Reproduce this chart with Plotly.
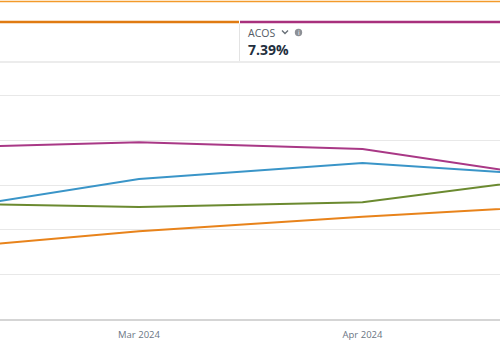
import plotly.graph_objects as go

# ---- data ----
months = ["2024-02-01", "2024-03-01", "2024-04-01", "2024-05-01"]
series_magenta = [3.84, 3.96, 3.81, 3.09]
series_blue = [2.40, 3.14, 3.50, 3.18]
series_green = [2.60, 2.51, 2.62, 3.24]
series_orange = [1.55, 1.97, 2.29, 2.57]
tick_dates = ["2024-03-01", "2024-04-01"]
tick_labels = ["Mar 2024", "Apr 2024"]
metric_name = "ACOS"
metric_value = "7.39%"

W, H = 500, 350


def py(px):
    return 1 - px / H


def pxx(px):
    return px / W


fig = go.Figure()
for vals, col in [
    (series_orange, "#E8831B"),
    (series_green, "#6B8A30"),
    (series_blue, "#3A95C8"),
    (series_magenta, "#A93886"),
]:
    fig.add_trace(go.Scatter(x=months, y=vals, mode="lines",
                             line=dict(color=col, width=2), hoverinfo="skip",
                             showlegend=False))

shapes = [
    # top thin orange line
    dict(type="line", xref="paper", yref="paper", x0=0, x1=1, y0=py(1.5), y1=py(1.5),
         line=dict(color="#F39A2B", width=1.6)),
    # card accent bars
    dict(type="line", xref="paper", yref="paper", x0=0, x1=pxx(239), y0=py(22), y1=py(22),
         line=dict(color="#E07B12", width=2.5)),
    dict(type="line", xref="paper", yref="paper", x0=pxx(240), x1=1, y0=py(22), y1=py(22),
         line=dict(color="#A8307D", width=2.5)),
    # divider
    dict(type="line", xref="paper", yref="paper", x0=pxx(239.5), x1=pxx(239.5), y0=py(23.5), y1=py(61),
         line=dict(color="#E3E3E3", width=1)),
    # card bottom border
    dict(type="line", xref="paper", yref="paper", x0=0, x1=1, y0=py(62), y1=py(62),
         line=dict(color="#E6E6E6", width=1.5)),
    # chevron
    dict(type="path", xref="paper", yref="paper",
         path=f"M {pxx(282)},{py(30.5)} L {pxx(285)},{py(33.5)} L {pxx(288)},{py(30.5)}",
         line=dict(color="#687078", width=1.4)),
    # info icon
    dict(type="circle", xref="paper", yref="paper",
         x0=pxx(294.8), x1=pxx(302.2), y0=py(36.2), y1=py(28.8),
         fillcolor="#8D9096", line=dict(width=0)),
]

annotations = [
    dict(text=metric_name, xref="paper", yref="paper", x=pxx(247), y=py(32.5),
         xanchor="left", yanchor="middle", showarrow=False, borderpad=0,
         font=dict(family="Open Sans", size=10.5, color="#545B64")),
    dict(text="i", xref="paper", yref="paper", x=pxx(298.5), y=py(32.5),
         xanchor="center", yanchor="middle", showarrow=False, borderpad=0,
         font=dict(family="DejaVu Sans", size=6, color="white")),
    dict(text=f"<b>{metric_value}</b>", xref="paper", yref="paper", x=pxx(246.5), y=py(49),
         xanchor="left", yanchor="middle", showarrow=False, borderpad=0,
         font=dict(family="Open Sans", size=14, color="#232F3E")),
]

fig.update_layout(
    width=W, height=H,
    margin=dict(l=0, r=0, t=0, b=0),
    paper_bgcolor="white", plot_bgcolor="white",
    shapes=shapes, annotations=annotations,
    xaxis=dict(type="date", range=["2024-02-10 17:17", "2024-04-20 01:44"],
               tickvals=tick_dates, ticktext=tick_labels, showgrid=False,
               showline=True, linecolor="#D5D5D5", linewidth=2, zeroline=False,
               ticks="", ticklabelstandoff=6,
               tickfont=dict(family="Open Sans", size=9.5, color="#6B7684"),
               domain=[0, 1]),
    yaxis=dict(range=[0, 5.762], dtick=1, tick0=0, showticklabels=False,
               gridcolor="#E8E8E8", gridwidth=1, zeroline=False, showline=False,
               domain=[py(319), py(62)]),
)

fig.write_html("out.html")
